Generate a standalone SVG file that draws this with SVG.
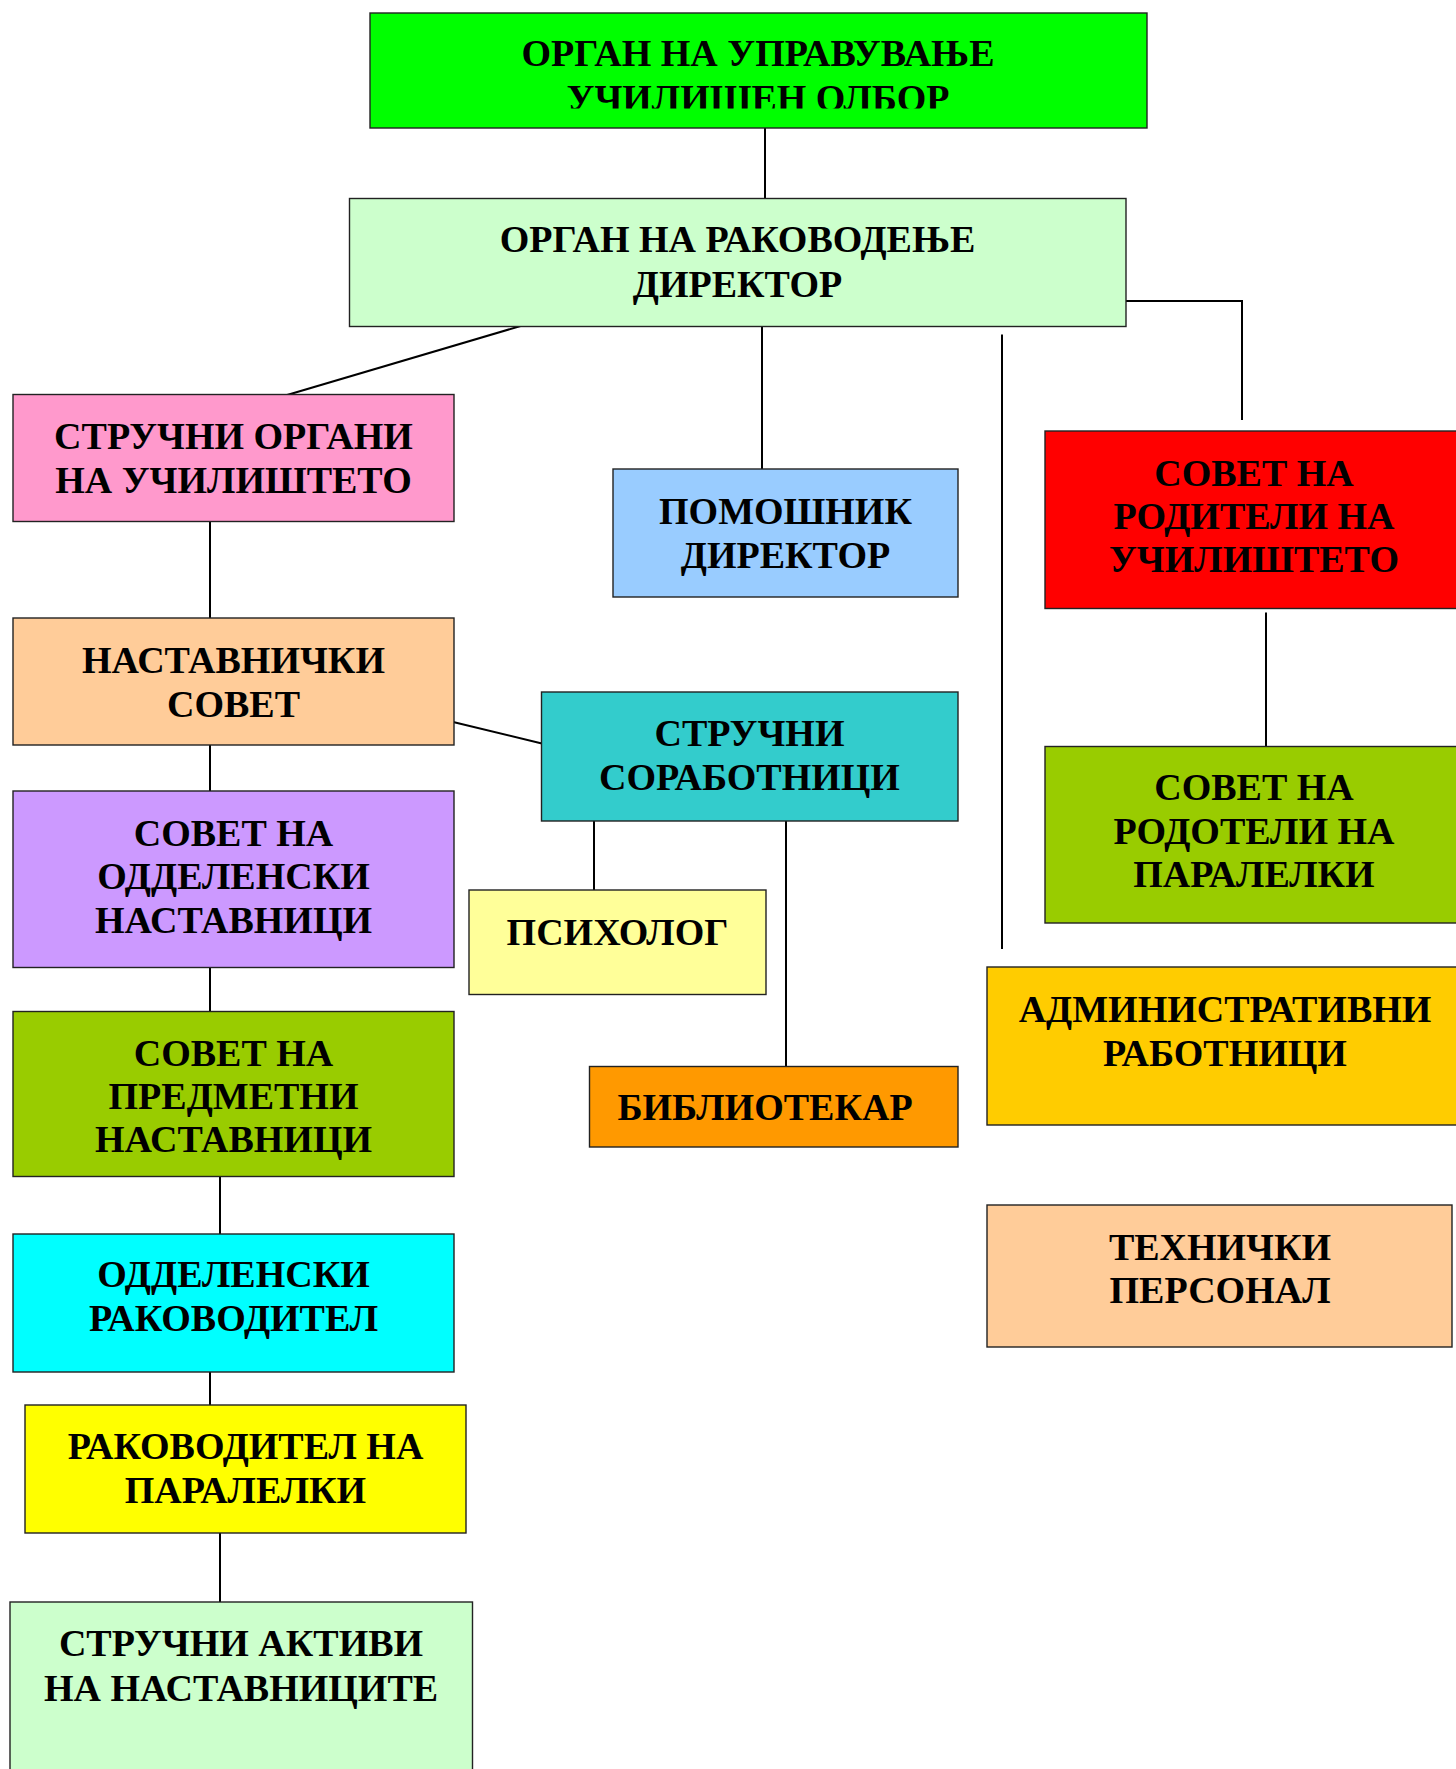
<svg xmlns="http://www.w3.org/2000/svg" width="1456" height="1769" viewBox="0 0 1456 1769">
<style>
.box{stroke:#222;stroke-width:1.4}
.t{font-family:"Liberation Serif","Times New Roman",serif;font-weight:bold;font-size:38px;fill:#000;text-anchor:middle}
.c{stroke:#000;stroke-width:2;fill:none}
</style>
<defs>
<clipPath id="clipTop"><rect x="370" y="13" width="777" height="95.5"/></clipPath>
</defs>
<rect width="1456" height="1769" fill="#fff"/>
<g id="connectors">
<line class="c" x1="765" y1="128" x2="765" y2="205"/>
<line class="c" x1="524" y1="325" x2="282" y2="396.5"/>
<line class="c" x1="762" y1="326" x2="762" y2="469"/>
<line class="c" x1="1002" y1="334.5" x2="1002" y2="949"/>
<polyline class="c" points="1122,301 1242,301 1242,420"/>
<line class="c" x1="1266" y1="612.5" x2="1266" y2="746"/>
<line class="c" x1="210" y1="521" x2="210" y2="619"/>
<line class="c" x1="449" y1="721" x2="546" y2="744.5"/>
<line class="c" x1="210" y1="745" x2="210" y2="794"/>
<line class="c" x1="594" y1="821" x2="594" y2="893"/>
<line class="c" x1="786" y1="821" x2="786" y2="1067"/>
<line class="c" x1="210" y1="964" x2="210" y2="1011"/>
<line class="c" x1="220" y1="1176" x2="220" y2="1235"/>
<line class="c" x1="210" y1="1371" x2="210" y2="1409"/>
<line class="c" x1="220" y1="1531" x2="220" y2="1603"/>
</g>
<g id="n-upravuvanje">
<rect class="box" x="370" y="13" width="777" height="115" fill="#00FF00"/>
<g clip-path="url(#clipTop)">
<text class="t" x="758" y="66">ОРГАН НА УПРАВУВАЊЕ</text>
<text class="t" x="758" y="110.5">УЧИЛИШЕН ОЛБОР</text>
</g>
</g>
<g id="n-direktor">
<rect class="box" x="349.5" y="198.5" width="776.5" height="128" fill="#CCFFCC"/>
<text class="t" x="737.5" y="252">ОРГАН НА РАКОВОДЕЊЕ</text>
<text class="t" x="737.5" y="296.5">ДИРЕКТОР</text>
</g>
<g id="n-strucni-organi">
<rect class="box" x="13" y="394.5" width="441" height="127" fill="#FF99CC"/>
<text class="t" x="233.5" y="449">СТРУЧНИ ОРГАНИ</text>
<text class="t" x="233.5" y="493">НА УЧИЛИШТЕТО</text>
</g>
<g id="n-pomosnik">
<rect class="box" x="613" y="469" width="345" height="128" fill="#99CCFF"/>
<text class="t" x="785.5" y="524">ПОМОШНИК</text>
<text class="t" x="785.5" y="567.5">ДИРЕКТОР</text>
</g>
<g id="n-sovet-roditeli-uciliste">
<rect class="box" x="1045" y="431" width="418" height="177.5" fill="#FF0000"/>
<text class="t" x="1254" y="486">СОВЕТ НА</text>
<text class="t" x="1254" y="529">РОДИТЕЛИ НА</text>
<text class="t" x="1254" y="572">УЧИЛИШТЕТО</text>
</g>
<g id="n-nastavnicki-sovet">
<rect class="box" x="13" y="618" width="441" height="127" fill="#FFCC99"/>
<text class="t" x="233.5" y="672.5">НАСТАВНИЧКИ</text>
<text class="t" x="233.5" y="717">СОВЕТ</text>
</g>
<g id="n-strucni-sorabotnici">
<rect class="box" x="541.5" y="692" width="416.5" height="129" fill="#33CCCC"/>
<text class="t" x="749.5" y="746">СТРУЧНИ</text>
<text class="t" x="749.5" y="790">СОРАБОТНИЦИ</text>
</g>
<g id="n-sovet-roditeli-paralelki">
<rect class="box" x="1045" y="746.5" width="418" height="176.5" fill="#99CC00"/>
<text class="t" x="1254" y="800">СОВЕТ НА</text>
<text class="t" x="1254" y="843.5">РОДОТЕЛИ НА</text>
<text class="t" x="1254" y="887">ПАРАЛЕЛКИ</text>
</g>
<g id="n-oddelenski-nastavnici">
<rect class="box" x="13" y="791" width="441" height="176.5" fill="#CC99FF"/>
<text class="t" x="233.5" y="846">СОВЕТ НА</text>
<text class="t" x="233.5" y="888.5">ОДДЕЛЕНСКИ</text>
<text class="t" x="233.5" y="932.5">НАСТАВНИЦИ</text>
</g>
<g id="n-psiholog">
<rect class="box" x="469" y="890" width="297" height="104.5" fill="#FFFF99"/>
<text class="t" x="617.5" y="944.5">ПСИХОЛОГ</text>
</g>
<g id="n-administrativni">
<rect class="box" x="987" y="967" width="476" height="158" fill="#FFCC00"/>
<text class="t" x="1225" y="1021.5">АДМИНИСТРАТИВНИ</text>
<text class="t" x="1225" y="1066">РАБОТНИЦИ</text>
</g>
<g id="n-predmetni-nastavnici">
<rect class="box" x="13" y="1011.5" width="441" height="165" fill="#99CC00"/>
<text class="t" x="233.5" y="1065.5">СОВЕТ НА</text>
<text class="t" x="233.5" y="1108.5">ПРЕДМЕТНИ</text>
<text class="t" x="233.5" y="1152">НАСТАВНИЦИ</text>
</g>
<g id="n-bibliotekar">
<rect class="box" x="589.5" y="1066.5" width="368.5" height="80.5" fill="#FF9900"/>
<text class="t" x="765" y="1120">БИБЛИОТЕКАР</text>
</g>
<g id="n-tehnicki">
<rect class="box" x="987" y="1205" width="465" height="142" fill="#FFCC99"/>
<text class="t" x="1220" y="1260">ТЕХНИЧКИ</text>
<text class="t" x="1220" y="1302.5">ПЕРСОНАЛ</text>
</g>
<g id="n-oddelenski-rakovoditel">
<rect class="box" x="13" y="1234" width="441" height="138" fill="#00FFFF"/>
<text class="t" x="233.5" y="1287">ОДДЕЛЕНСКИ</text>
<text class="t" x="233.5" y="1331">РАКОВОДИТЕЛ</text>
</g>
<g id="n-rakovoditel-paralelki">
<rect class="box" x="25" y="1405" width="441" height="128" fill="#FFFF00"/>
<text class="t" x="245.5" y="1459">РАКОВОДИТЕЛ НА</text>
<text class="t" x="245.5" y="1503">ПАРАЛЕЛКИ</text>
</g>
<g id="n-strucni-aktivi">
<rect class="box" x="10" y="1602" width="462.5" height="200" fill="#CCFFCC"/>
<text class="t" x="241" y="1656">СТРУЧНИ АКТИВИ</text>
<text class="t" x="241" y="1700.5">НА НАСТАВНИЦИТЕ</text>
</g>
</svg>
